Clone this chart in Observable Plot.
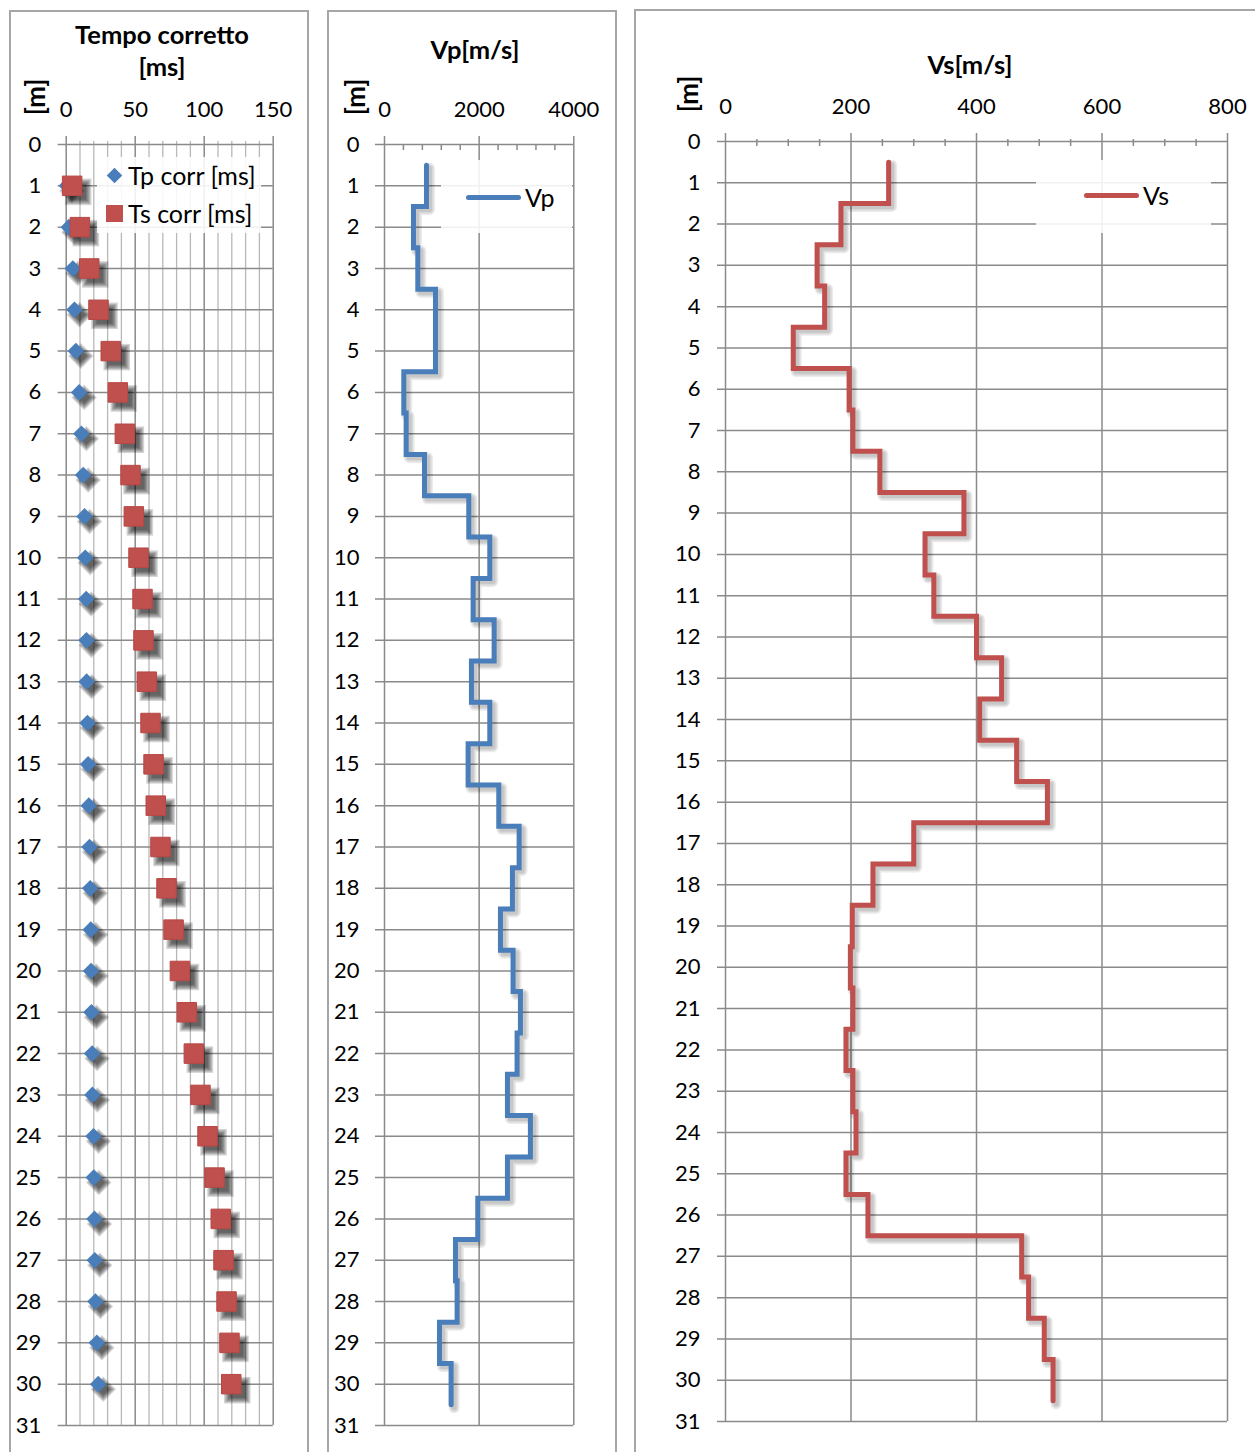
<!DOCTYPE html>
<html><head><meta charset="utf-8">
<script src="https://cdn.jsdelivr.net/npm/d3@7"></script>
<script src="https://cdn.jsdelivr.net/npm/@observablehq/plot@0.6"></script>
<style>
body{margin:0;background:#fff;}
#wrap{position:relative;width:1255px;height:1452px;overflow:hidden;font-family:Lato,"Open Sans",sans-serif;color:#000;}
.panel{position:absolute;box-sizing:border-box;border:2px solid #a6a6a6;background:#fff;}
.title{position:absolute;font-weight:bold;font-size:25.5px;text-align:center;transform:translate(-50%,-50%);white-space:nowrap;line-height:32px;}
.unit{position:absolute;font-weight:bold;font-size:26px;transform:translate(-50%,-50%) rotate(-90deg);white-space:nowrap;}
.legend{position:absolute;background:rgba(255,255,255,0.88);}
.lt{position:absolute;font-size:25px;transform:translateY(-50%);white-space:nowrap;line-height:1;}
.sw{position:absolute;}
</style></head><body><div id="wrap"></div><script>
// ---- data ----
const depths = [1,2,3,4,5,6,7,8,9,10,11,12,13,14,15,16,17,18,19,20,21,22,23,24,25,26,27,28,29,30];
const tpCorr = [0.5,1.9,4.8,6,7,9.4,11,12.3,13.3,13.8,14.5,14.7,14.8,15.4,15.9,16.4,16.9,17.4,17.8,18,18.3,18.8,19,19.8,20,20.5,20.7,21.2,22.2,23.2];
const tsCorr = [4.3,9.9,16.7,23.4,32.3,37.4,42.5,46.6,49,52.4,55.3,56,58.4,61.1,63.3,64.9,68.3,72.7,77.8,82.4,87.4,92.5,97.3,102.4,107.5,112,114,116.2,118.3,119.6];
const vp = [887,612,704,1077,1077,408,458,845,1781,2225,1873,2317,1837,2225,1767,2415,2845,2703,2450,2717,2872,2802,2598,3083,2598,1971,1500,1535,1162,1408];
const vs = [260,184,146,158,108,197,203,246,380,318,332,400,440,405,464,513,300,235,202,199,203,192,203,208,192,227,472,483,508,522];

const depthTicks = d3.range(0, 32);
const tTicks = [0,50,100,150];
const tMinor = [10,20,30,40,60,70,80,90,110,120,130,140];
const vpTicks = [0,2000,4000];
const vpMinor = [400,800,1200,1600,2400,2800,3200,3600];
const vsTicks = [0,200,400,600,800];
const vsMinor = [50,100,150,250,300,350,450,500,550,650,700,750];

const titles = {t: ["Tempo corretto","[ms]"], vp: "Vp[m/s]", vs: "Vs[m/s]", unit: "[m]"};
const legendNames = {tp: "Tp corr [ms]", ts: "Ts corr [ms]", vp: "Vp", vs: "Vs"};

const BLUE = "#4a7ebb", RED = "#c0504d";
const GRID = "#8a8a8a", MINOR = "#b8b8b8", FONT = "Lato, 'Open Sans', sans-serif";

const rows = depths.map((d,i) => ({depth: d, tp: tpCorr[i], ts: tsCorr[i]}));
const stepRows = vals => depths.flatMap((d,i) => [{v: vals[i], d: d - 0.5}, {v: vals[i], d: d + 0.5}]);

const wrap = document.getElementById("wrap");
function el(cls, css, html) {
  const e = document.createElement("div");
  e.className = cls; Object.assign(e.style, css); if (html != null) e.innerHTML = html;
  wrap.appendChild(e); return e;
}
const fmt = d => String(d);
const baseStyle = {background: "transparent", fontFamily: FONT, fontSize: "22px", color: "#000", overflow: "visible"};

// soft shadows built from stacked translucent copies (no SVG filters)
function dotShadow(field, symbol, r, off) {
  return [r + 4, r + 2.5, r + 1, r - 0.5, r - 2].map(rr =>
    Plot.dot(rows, {x: field, y: "depth", symbol, r: rr, fill: "#000", fillOpacity: 0.17, dx: off, dy: off}));
}
function lineShadow(vals) {
  return [11, 8, 5].map(w =>
    Plot.line(stepRows(vals), {x: "v", y: "d", stroke: "#000", strokeOpacity: 0.08, strokeWidth: w, dx: 3, dy: 3, strokeLinejoin: "round"}));
}

// panel frames
el("panel", {left: "9px", top: "10px", width: "300px", height: "1500px"});
el("panel", {left: "327px", top: "10px", width: "290px", height: "1500px"});
el("panel", {left: "634px", top: "9px", width: "700px", height: "1500px"});

function place(svg, left) {
  svg.style.position = "absolute"; svg.style.left = left + "px"; svg.style.top = "0px";
  wrap.appendChild(svg);
}

// ---- Panel 1: corrected times ----
const p1 = Plot.plot({
  width: 310, height: 1452,
  marginLeft: 65.7, marginRight: 37.3, marginTop: 144, marginBottom: 27,
  style: baseStyle,
  x: {domain: [0,150], axis: "top", ticks: tTicks, tickSize: 0, tickPadding: 28, label: null, tickFormat: fmt},
  y: {domain: [0,31], reverse: true, ticks: depthTicks, tickSize: 0, tickPadding: 25, label: null, tickFormat: fmt},
  marks: [
    Plot.ruleX(tMinor, {stroke: MINOR, strokeWidth: 1.3, insetTop: -3}),
    Plot.ruleY(depthTicks, {stroke: GRID, strokeWidth: 1.5, insetLeft: -8}),
    Plot.ruleX(tTicks, {stroke: GRID, strokeWidth: 1.5, insetTop: -8}),
    ...dotShadow("tp", "diamond2", 7.5, 5),
    ...dotShadow("ts", "square", 11, 6),
    Plot.dot(rows, {x: "tp", y: "depth", symbol: "diamond2", r: 7.5, fill: BLUE}),
    Plot.dot(rows, {x: "ts", y: "depth", symbol: "square", r: 11, fill: RED, stroke: "#b84845", strokeWidth: 1})
  ]
});
place(p1, 0);

// ---- Panel 2: Vp ----
const p2 = Plot.plot({
  width: 300, height: 1452,
  marginLeft: 64, marginRight: 46.7, marginTop: 144, marginBottom: 27,
  style: baseStyle,
  x: {domain: [0,4000], axis: "top", ticks: vpTicks, tickSize: 0, tickPadding: 28, label: null, tickFormat: fmt},
  y: {domain: [0,31], reverse: true, ticks: depthTicks, tickSize: 0, tickPadding: 25, label: null, tickFormat: fmt},
  marks: [
    Plot.ruleY(depthTicks, {stroke: GRID, strokeWidth: 1.5, insetLeft: -9}),
    Plot.ruleX(vpTicks, {stroke: GRID, strokeWidth: 1.5, insetTop: -8}),
    Plot.ruleX(vpMinor, {y1: 0, y2: 0, stroke: GRID, strokeWidth: 1.5, insetTop: 0, insetBottom: -6}),
    ...lineShadow(vp),
    Plot.line(stepRows(vp), {x: "v", y: "d", stroke: BLUE, strokeWidth: 5, strokeLinejoin: "miter", strokeMiterlimit: 10, strokeLinecap: "round"})
  ]
});
place(p2, 320);

// ---- Panel 3: Vs ----
const p3 = Plot.plot({
  width: 625, height: 1452,
  marginLeft: 95, marginRight: 28, marginTop: 141, marginBottom: 31,
  style: baseStyle,
  x: {domain: [0,800], axis: "top", ticks: vsTicks, tickSize: 0, tickPadding: 28, label: null, tickFormat: fmt},
  y: {domain: [0,31], reverse: true, ticks: depthTicks, tickSize: 0, tickPadding: 25, label: null, tickFormat: fmt},
  marks: [
    Plot.ruleY(depthTicks, {stroke: GRID, strokeWidth: 1.5, insetLeft: -8}),
    Plot.ruleX(vsTicks, {stroke: GRID, strokeWidth: 1.5, insetTop: -8}),
    Plot.ruleX(vsMinor, {y1: 0, y2: 0, stroke: GRID, strokeWidth: 1.5, insetTop: -2, insetBottom: -5}),
    ...lineShadow(vs),
    Plot.line(stepRows(vs), {x: "v", y: "d", stroke: RED, strokeWidth: 5, strokeLinejoin: "miter", strokeMiterlimit: 10, strokeLinecap: "round"})
  ]
});
place(p3, 630);

// ---- titles ----
el("title", {left: "162px", top: "50px"}, titles.t[0] + "<br>" + titles.t[1]);
el("title", {left: "475px", top: "49px"}, titles.vp);
el("title", {left: "970px", top: "64px"}, titles.vs);
el("unit", {left: "35px", top: "97px"}, titles.unit);
el("unit", {left: "355px", top: "97px"}, titles.unit);
el("unit", {left: "688px", top: "94px"}, titles.unit);

// ---- legends ----
el("legend", {left: "97px", top: "157px", width: "164px", height: "76px"});
el("sw", {left: "108.5px", top: "169.5px", width: "11px", height: "11px", background: BLUE, transform: "rotate(45deg)"});
el("lt", {left: "128px", top: "175px"}, legendNames.tp);
el("sw", {left: "106px", top: "205px", width: "17px", height: "17px", background: RED});
el("lt", {left: "128px", top: "213px"}, legendNames.ts);

el("legend", {left: "441px", top: "160px", width: "131px", height: "73px"});
el("sw", {left: "466px", top: "194.5px", width: "55px", height: "5px", background: BLUE, borderRadius: "3px"});
el("lt", {left: "525px", top: "197px"}, legendNames.vp);

el("legend", {left: "1036px", top: "160px", width: "175px", height: "73px"});
el("sw", {left: "1084px", top: "192.5px", width: "55px", height: "5px", background: RED, borderRadius: "3px"});
el("lt", {left: "1143px", top: "195px"}, legendNames.vs);
</script></body></html>
